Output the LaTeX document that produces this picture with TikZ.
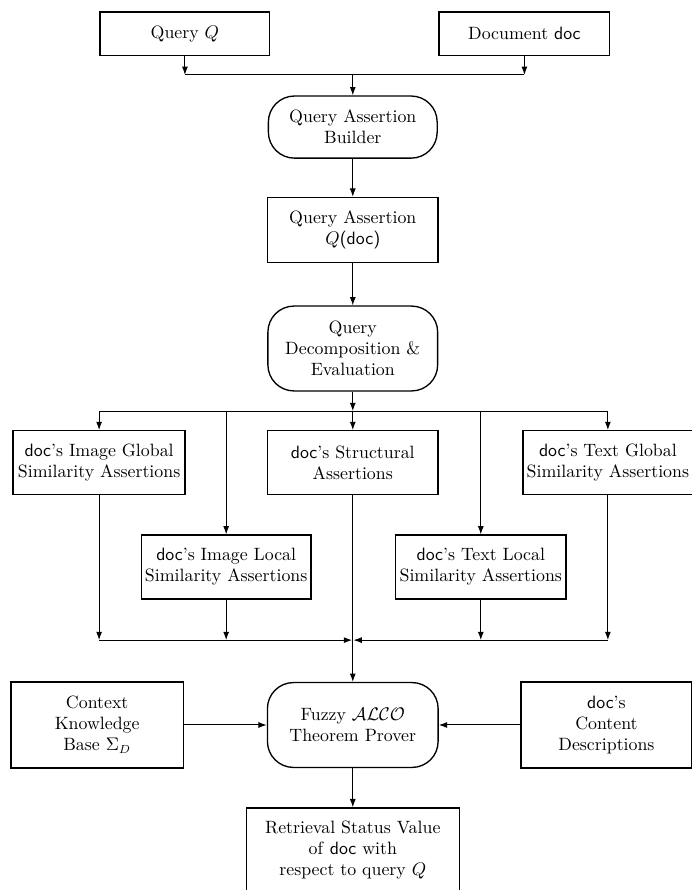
\documentclass[tikz,border=0pt]{standalone}
\usepackage{amsmath,amssymb}
\usetikzlibrary{positioning, calc, arrows.meta}
\newcommand{\dc}{\textsf{doc}}
\tikzset{
    box/.style={draw, thick, align=center, minimum width=3.6cm, minimum height=1.35cm, inner sep=1pt,
        font=\fontsize{10.7pt}{12.6pt}\selectfont},
    proc/.style={box, rounded corners=0.55cm},
    flow/.style={semithick, -{Latex[length=5pt,width=3.6pt]}},
    wire/.style={semithick},
}

\begin{document}
\begin{tikzpicture}
            \useasboundingbox (0,0) rectangle (14.59,-18.77);
            % inputs
            \node[box, minimum width=3.58cm, minimum height=0.91cm] (query) at (3.90,-0.71) {Query \(Q\)};
            \node[box, minimum width=3.6cm, minimum height=0.91cm] (document) at (11.06,-0.71) {Document \dc};
            \coordinate (merge) at (7.44,-1.58);
            % query side
            \node[proc, minimum width=3.56cm, minimum height=1.31cm] (builder) at (7.44,-2.68) {Query Assertion\\Builder};
            \node[box, minimum width=3.6cm, minimum height=1.37cm] (assertion) at (7.44,-4.85) {Query Assertion\\\(Q\)\textsf{(doc)}};
            \node[proc, minimum width=3.58cm, minimum height=1.79cm] (decomp) at (7.44,-7.35) {Query\\Decomposition \&\\Evaluation};
            \coordinate (split) at (7.44,-8.67);
            % similarity assertions
            \node[box, minimum width=3.63cm] (imgglob) at (2.09,-9.76) {\dc's Image Global\\Similarity Assertions};
            \node[box] (struct) at (7.44,-9.76) {\dc's Structural\\Assertions};
            \node[box, minimum width=3.58cm] (txtglob) at (12.82,-9.76) {\dc's Text Global\\Similarity Assertions};
            \node[box, minimum width=3.58cm] (imgloc) at (4.77,-11.96) {\dc's Image Local\\Similarity Assertions};
            \node[box, minimum width=3.6cm] (txtloc) at (10.14,-11.96) {\dc's Text Local\\Similarity Assertions};
            \coordinate (join) at (7.44,-13.50);
            % reasoning
            \node[box, minimum width=3.63cm, minimum height=1.81cm] (context) at (2.05,-15.29) {Context\\Knowledge\\Base \(\Sigma_D\)};
            \node[proc, minimum width=3.6cm, minimum height=1.79cm] (prover) at (7.44,-15.29) {Fuzzy \(\mathcal{ALCO}\)\\Theorem Prover};
            \node[box, minimum width=3.6cm, minimum height=1.81cm] (content) at (12.79,-15.29) {\dc's\\Content\\Descriptions};
            \node[box, minimum width=4.49cm, minimum height=1.76cm] (rsv) at (7.44,-17.92) {Retrieval Status Value\\of \dc{} with\\respect to query \(Q\)};
            % connectors
            \draw[flow] (query.south) -- (query.south |- merge);
            \draw[flow] (document.south) -- (document.south |- merge);
            \draw[wire] (query.south |- merge) -- (document.south |- merge);
            \draw[flow] (merge) -- (builder.north);
            \draw[flow] (builder.south) -- (assertion.north);
            \draw[flow] (assertion.south) -- (decomp.north);
            \draw[flow] (decomp.south) -- (split);
            \draw[wire] (imgglob.north |- split) -- (txtglob.north |- split);
            \foreach \n in {imgglob,imgloc,struct,txtloc,txtglob}
                \draw[flow] (\n.north |- split) -- (\n.north);
            \foreach \n in {imgglob,imgloc,txtloc,txtglob}
                \draw[flow] (\n.south) -- (\n.south |- join);
            \draw[flow] (imgglob.south |- join) -- ([xshift=-0.4pt]join);
            \draw[flow] (txtglob.south |- join) -- ([xshift=0.4pt]join);
            \draw[flow] (struct.south) -- (prover.north);
            \draw[flow] (context.east) -- (prover.west);
            \draw[flow] (content.west) -- (prover.east);
            \draw[flow] (prover.south) -- (rsv.north);
        \end{tikzpicture}
\end{document}
